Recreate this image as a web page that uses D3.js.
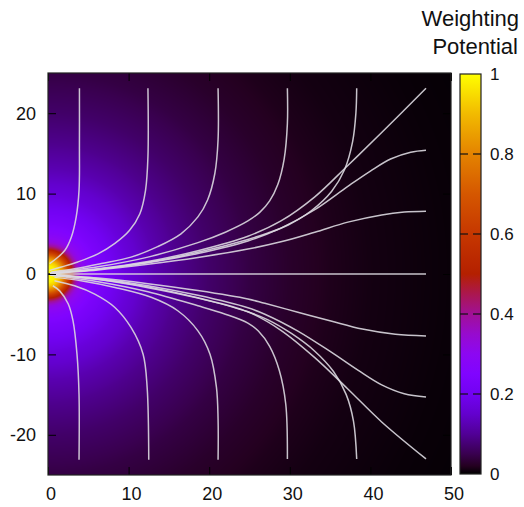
<!DOCTYPE html>
<html>
<head>
<meta charset="utf-8">
<script src="https://cdn.jsdelivr.net/npm/d3@7"></script>
<style>
  body { margin: 0; background: #fff; }
  text { font-family: "Liberation Sans", Arial, Helvetica, sans-serif; fill: #111; }
  .fieldline { fill: none; stroke: #dcd8e0; stroke-width: 1.5; stroke-opacity: 0.9; }
</style>
</head>
<body>
<svg id="vis-svg" width="524" height="507"></svg>
<script>

// Axis ticks
var xTicks = [0, 10, 20, 30, 40, 50];
var yTicks = [-20, -10, 0, 10, 20];
var cbTicks = [0, 0.2, 0.4, 0.6, 0.8, 1];

// Weighting potential against distance from the electrode (read along the axes)
var profileR = [0, 1, 1.5, 2, 2.5, 3, 3.5, 4, 5, 6, 8, 10, 13, 16, 20, 25, 30, 35, 40, 50, 60];
var profileV = [1, 0.98, 0.92, 0.8, 0.65, 0.5, 0.39, 0.32, 0.27, 0.24, 0.2, 0.165, 0.125, 0.095, 0.068, 0.043, 0.027, 0.017, 0.011, 0.005, 0.002];

// Colour palette (black - blue - violet - red - yellow)
var paletteStops  = [0, 0.02, 0.05, 0.1, 0.15, 0.2, 0.25, 0.3, 0.35, 0.4, 0.45, 0.5, 0.6, 0.7, 0.8, 0.9, 1];
var paletteColors = ['#000000', '#240020', '#39004f', '#510096', '#6301ce', '#7202f2', '#8004ff', '#8c07f2',
                     '#970bce', '#a11096', '#ab174f', '#b42000', '#c63700', '#d55700', '#e48300', '#f2ba00', '#ffff00'];

// Dark gap on the electrode
var electrodeGapX = [0, 0.8];

// Field lines, [x, y]
var fieldLines = [
  [[0.2,1.3],[1.0,1.9],[2.1,2.95],[2.9,4.6],[3.5,7.1],[3.85,10.4],[3.9,16],[3.9,23.1]],
  [[0.2,0.45],[1.65,0.87],[3.7,1.5],[6.2,2.5],[8.3,3.8],[10.1,5.4],[11.4,7.5],[12.1,10.4],[12.4,14.6],[12.4,23.1]],
  [[0.4,0.25],[3.3,0.66],[6.6,1.3],[10.3,2.1],[13.6,3.4],[16.5,5.0],[18.6,7.1],[19.8,9.2],[20.7,12.5],[21.1,16.7],[21.1,23.1]],
  [[0.3,0.15],[6.2,0.9],[12.4,2.1],[18.6,3.9],[22.0,5.2],[24.8,6.6],[26.3,7.7],[27.5,9.1],[28.5,11.1],[29.3,14.3],[29.7,18.7],[29.7,23.1]],
  [[0.3,0.1],[6.2,0.6],[12.4,1.45],[18.6,2.7],[24.8,4.3],[27.3,5.1],[29.8,6.1],[32.7,7.9],[35.2,10.3],[36.8,13.0],[37.8,16.5],[38.2,20],[38.3,23.1]],
  [[0.3,0.1],[6.2,0.65],[12.4,1.55],[18.6,2.9],[24.8,4.7],[28.9,6.6],[33.1,9.6],[37.2,13.5],[41.4,17.6],[46.9,23.1]],
  [[0.3,0.1],[6.2,0.6],[12.4,1.4],[18.6,2.55],[24.8,4.1],[28.9,5.7],[33.1,8.0],[37.2,10.9],[40.0,12.8],[42.5,14.3],[45.0,15.15],[46.9,15.4]],
  [[0.3,0.05],[6.2,0.5],[12.4,1.2],[18.6,2.05],[24.8,3.1],[28.9,4.0],[33.1,5.2],[37.2,6.45],[41.4,7.35],[44.2,7.7],[46.9,7.8]],
  [[0.3,0],[46.9,0]],
  [[0.3,-0.05],[6.2,-0.5],[12.4,-1.2],[18.6,-2.05],[24.8,-3.1],[26.9,-3.65],[31.0,-4.75],[35.1,-5.85],[39.0,-6.85],[43.1,-7.5],[46.9,-7.7]],
  [[0.3,-0.1],[6.2,-0.6],[12.4,-1.45],[18.6,-2.65],[24.8,-4.2],[26.9,-5.0],[31.0,-7.1],[35.1,-9.7],[38.5,-12.0],[41.4,-13.8],[44.2,-14.9],[46.9,-15.3]],
  [[0.3,-0.1],[6.2,-0.65],[12.4,-1.6],[18.6,-2.95],[24.8,-4.7],[28.9,-7.0],[33.1,-10.4],[37.2,-14.3],[41.4,-18.4],[46.9,-23.0]],
  [[0.3,-0.1],[6.2,-0.7],[12.4,-1.7],[18.6,-3.0],[24.8,-4.7],[27.3,-5.7],[30.2,-7.4],[33.1,-9.6],[35.4,-12.1],[37.0,-15.0],[37.9,-18.3],[38.3,-23.0]],
  [[0.3,-0.15],[6.2,-0.95],[12.4,-2.2],[18.6,-3.95],[22.0,-5.0],[24.8,-6.1],[26.1,-7.1],[27.5,-9.0],[28.7,-12.0],[29.5,-16.2],[29.7,-23.0]],
  [[0.8,-0.42],[4.1,-0.83],[8.3,-1.67],[12.8,-2.9],[16.1,-4.57],[18.6,-7.07],[20.1,-9.98],[20.9,-14.1],[21.1,-18],[21.1,-23.1]],
  [[0.8,-0.83],[3.3,-1.46],[5.8,-2.5],[8.3,-4.16],[10.3,-6.65],[11.8,-9.98],[12.3,-14.1],[12.5,-23.1]],
  [[0.6,-1.46],[1.45,-2.1],[2.5,-3.7],[3.1,-5.8],[3.6,-10.0],[3.85,-15],[3.85,-23.1]]
];

// Bounds
var plot = { left: 48, right: 451, top: 73, bottom: 475 };
var cb = { left: 460, right: 481, top: 74, bottom: 474 };

var svg = d3.select('#vis-svg');

var xScale = d3.scaleLinear().domain([0, 50]).range([plot.left, plot.right]);
var yScale = d3.scaleLinear().domain([-25, 25]).range([plot.bottom, plot.top]);
var potential = d3.scaleLinear().domain(profileR).range(profileV).clamp(true);
var palette = d3.scaleLinear().domain(paletteStops).range(paletteColors).clamp(true);

// Heat map painted on a canvas, then placed as an image
var pw = plot.right - plot.left, ph = plot.bottom - plot.top;
var canvas = document.createElement('canvas');
canvas.width = pw; canvas.height = ph;
var ctx = canvas.getContext('2d');
var img = ctx.createImageData(pw, ph);
for (var j = 0; j < ph; j++) {
  var yv = yScale.invert(plot.top + j + 0.5);
  for (var i = 0; i < pw; i++) {
    var xv = xScale.invert(plot.left + i + 0.5);
    var c = d3.rgb(palette(potential(Math.sqrt(xv * xv + yv * yv))));
    var k = (j * pw + i) * 4;
    img.data[k] = c.r; img.data[k + 1] = c.g; img.data[k + 2] = c.b; img.data[k + 3] = 255;
  }
}
ctx.putImageData(img, 0, 0);

svg.append('image')
  .attr('x', plot.left).attr('y', plot.top)
  .attr('width', pw).attr('height', ph)
  .attr('href', canvas.toDataURL());

// Electrode gap
svg.append('line')
  .attr('x1', xScale(electrodeGapX[0])).attr('x2', xScale(electrodeGapX[1]))
  .attr('y1', yScale(0)).attr('y2', yScale(0))
  .attr('stroke', '#111').attr('stroke-width', 1.5);

// Field lines
var line = d3.line()
  .x(function(d){ return xScale(d[0]); })
  .y(function(d){ return yScale(d[1]); })
  .curve(d3.curveCatmullRom.alpha(0.5));

svg.append('g')
  .selectAll('path')
  .data(fieldLines)
  .enter().append('path')
  .attr('class', 'fieldline')
  .attr('d', line);

// Axes (ticks pointing inwards, mirrored)
svg.append('g')
  .attr('transform', 'translate(0,' + plot.bottom + ')')
  .call(d3.axisTop(xScale).tickValues(xTicks).tickSize(8).tickFormat(''))
  .call(function(g){ g.select('.domain').remove(); });
svg.append('g')
  .attr('transform', 'translate(0,' + plot.top + ')')
  .call(d3.axisBottom(xScale).tickValues(xTicks).tickSize(8).tickFormat(''))
  .call(function(g){ g.select('.domain').remove(); });
svg.append('g')
  .attr('transform', 'translate(' + plot.left + ',0)')
  .call(d3.axisRight(yScale).tickValues(yTicks).tickSize(8).tickFormat(''))
  .call(function(g){ g.select('.domain').remove(); });
svg.append('g')
  .attr('transform', 'translate(' + plot.right + ',0)')
  .call(d3.axisLeft(yScale).tickValues(yTicks).tickSize(8).tickFormat(''))
  .call(function(g){ g.select('.domain').remove(); });

// Tick labels
svg.append('g').selectAll('text')
  .data(xTicks).enter().append('text')
  .attr('x', function(d){ return xScale(d) + 3; })
  .attr('y', 500)
  .attr('text-anchor', 'middle')
  .style('font-size', '18px')
  .text(function(d){ return d; });

svg.append('g').selectAll('text')
  .data(yTicks).enter().append('text')
  .attr('x', 36)
  .attr('y', function(d){ return yScale(d); })
  .attr('dy', '0.35em')
  .attr('text-anchor', 'end')
  .style('font-size', '18px')
  .text(function(d){ return d; });

// Frame
svg.append('rect')
  .attr('x', plot.left).attr('y', plot.top)
  .attr('width', pw).attr('height', ph)
  .attr('fill', 'none').attr('stroke', '#222').attr('stroke-width', 1.2);

// Colour bar
var cbScale = d3.scaleLinear().domain([0, 1]).range([cb.bottom, cb.top]);
var defs = svg.append('defs');
var grad = defs.append('linearGradient')
  .attr('id', 'cbgrad')
  .attr('x1', 0).attr('y1', 1).attr('x2', 0).attr('y2', 0);
grad.selectAll('stop')
  .data(paletteStops).enter().append('stop')
  .attr('offset', function(d){ return d; })
  .attr('stop-color', function(d){ return palette(d); });

svg.append('rect')
  .attr('x', cb.left).attr('y', cb.top)
  .attr('width', cb.right - cb.left).attr('height', cb.bottom - cb.top)
  .attr('fill', 'url(#cbgrad)')
  .attr('stroke', '#222').attr('stroke-width', 1.2);

var cbInner = cbTicks.filter(function(d){ return d > 0 && d < 1; });
svg.append('g').selectAll('line.l')
  .data(cbInner).enter().append('line')
  .attr('x1', cb.left).attr('x2', cb.left + 8)
  .attr('y1', function(d){ return cbScale(d); }).attr('y2', function(d){ return cbScale(d); })
  .attr('stroke', '#111').attr('stroke-width', 1.2);
svg.append('g').selectAll('line.r')
  .data(cbInner).enter().append('line')
  .attr('x1', cb.right - 8).attr('x2', cb.right)
  .attr('y1', function(d){ return cbScale(d); }).attr('y2', function(d){ return cbScale(d); })
  .attr('stroke', '#111').attr('stroke-width', 1.2);

svg.append('g').selectAll('text')
  .data(cbTicks).enter().append('text')
  .attr('x', 490)
  .attr('y', function(d){ return cbScale(d); })
  .attr('dy', '0.35em')
  .style('font-size', '17px')
  .text(function(d){ return d; });

// Colour bar title
svg.append('text')
  .attr('x', 519).attr('y', 26)
  .attr('text-anchor', 'end')
  .style('font-size', '22px')
  .text('Weighting');
svg.append('text')
  .attr('x', 518).attr('y', 54)
  .attr('text-anchor', 'end')
  .style('font-size', '22px')
  .text('Potential');

</script>
</body>
</html>
